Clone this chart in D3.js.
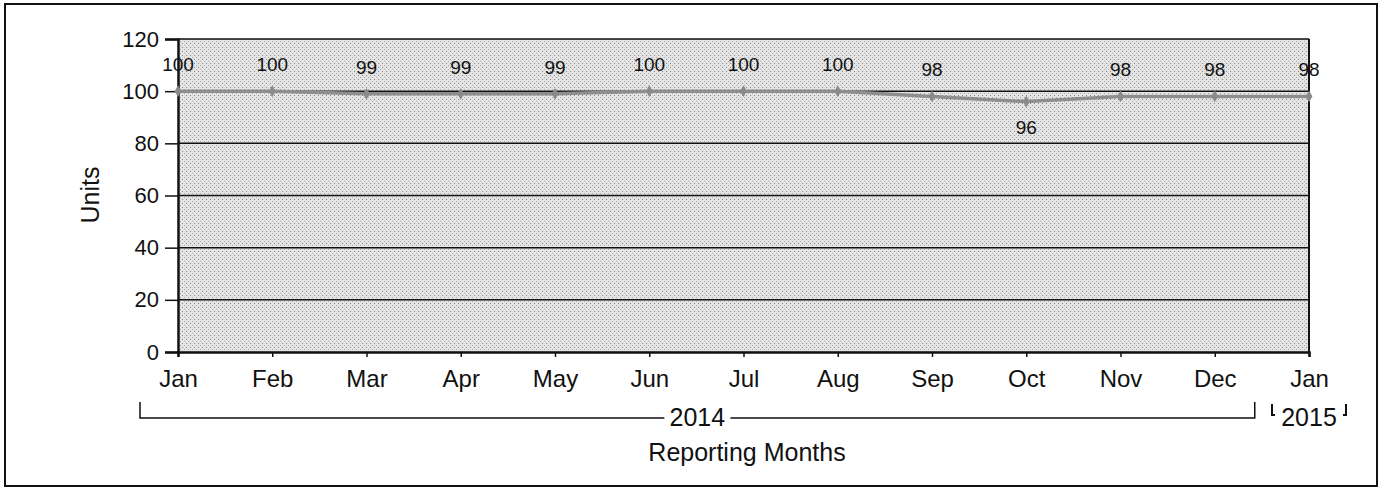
<!DOCTYPE html>
<html>
<head>
<meta charset="utf-8">
<script src="https://cdn.jsdelivr.net/npm/d3@7"></script>
<style>
  body { margin: 0; background: #fff; }
  svg text { font-family: "Liberation Sans", Arial, sans-serif; fill: #111; }
</style>
</head>
<body>
<svg id="chart" width="1380" height="489"></svg>
<script>
// data
const months = ["Jan", "Feb", "Mar", "Apr", "May", "Jun", "Jul", "Aug", "Sep", "Oct", "Nov", "Dec", "Jan"];
const units = [100, 100, 99, 99, 99, 100, 100, 100, 98, 96, 98, 98, 98];
const yTicks = [0, 20, 40, 60, 80, 100, 120];
const years = [{ label: "2014", from: 0, to: 11 }, { label: "2015", from: 12, to: 12 }];

const svg = d3.select("#chart");

const margin = { top: 39, right: 71, bottom: 137, left: 178 },
    width = 1380 - margin.left - margin.right,
    height = 489 - margin.top - margin.bottom;

// outer frame
svg.append("rect")
    .attr("x", 5).attr("y", 4)
    .attr("width", 1372).attr("height", 482)
    .attr("fill", "none").attr("stroke", "#111").attr("stroke-width", 2);

// stipple pattern for the plot background
const defs = svg.append("defs");
const pat = defs.append("pattern")
    .attr("id", "stipple").attr("width", 4).attr("height", 4)
    .attr("patternUnits", "userSpaceOnUse");
pat.append("rect").attr("width", 4).attr("height", 4).attr("fill", "#e4e4e4");
pat.append("rect").attr("x", 0).attr("y", 0).attr("width", 1).attr("height", 1).attr("fill", "#888");
pat.append("rect").attr("x", 2).attr("y", 2).attr("width", 1).attr("height", 1).attr("fill", "#aaa");

const g = svg.append("g").attr("transform", `translate(${margin.left},${margin.top})`);

const x = d3.scalePoint().domain(d3.range(months.length)).range([0, width]);
const y = d3.scaleLinear().domain([0, 120]).range([height, 0]);

g.append("rect")
    .attr("width", width).attr("height", height)
    .attr("fill", "url(#stipple)");

// gridlines
g.append("g")
    .selectAll("line")
    .data(yTicks.filter(d => d > 0))
    .enter().append("line")
    .attr("x1", 0).attr("x2", width)
    .attr("y1", d => y(d)).attr("y2", d => y(d))
    .attr("stroke", "#111").attr("stroke-width", 1.5);

// right border
g.append("line")
    .attr("x1", width).attr("x2", width)
    .attr("y1", 0).attr("y2", height)
    .attr("stroke", "#111").attr("stroke-width", 2);

// y axis
const yAxis = g.append("g")
    .call(d3.axisLeft(y).tickValues(yTicks).tickSize(13).tickPadding(6));
yAxis.select(".domain").attr("stroke", "#111").attr("stroke-width", 2.5);
yAxis.selectAll(".tick line").attr("stroke", "#111").attr("stroke-width", 1.5);
yAxis.selectAll("text").style("font-size", "22px").attr("fill", "#111");

// x axis
const xAxis = g.append("g")
    .attr("transform", `translate(0,${height})`)
    .call(d3.axisBottom(x).tickFormat(i => months[i]).tickSize(5).tickPadding(13));
xAxis.select(".domain").attr("stroke", "#111").attr("stroke-width", 2.5);
xAxis.selectAll(".tick line").attr("stroke", "#111").attr("stroke-width", 1.5);
xAxis.selectAll("text").style("font-size", "24px").attr("fill", "#111");

// line
g.append("path")
    .datum(units)
    .attr("fill", "none")
    .attr("stroke", "#8e8e8e")
    .attr("stroke-width", 3.5)
    .attr("d", d3.line().x((d, i) => x(i)).y(d => y(d)));

// markers
g.append("g")
    .selectAll("path")
    .data(units)
    .enter().append("path")
    .attr("transform", (d, i) => `translate(${x(i)},${y(d)})`)
    .attr("d", d3.symbol().type(d3.symbolDiamond).size(40))
    .attr("fill", "#8a8a8a");

// value labels
g.append("g")
    .selectAll("text")
    .data(units)
    .enter().append("text")
    .attr("x", (d, i) => x(i))
    .attr("y", (d, i) => i === 9 ? y(d) + 32 : y(d) - 20)
    .attr("text-anchor", "middle")
    .style("font-size", "19px")
    .text(d => d);

// year brackets
const by = height + 66;
years.forEach(yr => {
    if (yr.from === yr.to) {
        const cx = x(yr.from);
        g.append("text")
            .attr("x", cx).attr("y", by + 8)
            .attr("text-anchor", "middle")
            .style("font-size", "25px")
            .text(yr.label);
        [[cx - 37, 1], [cx + 37, -1]].forEach(([bx, dir]) => {
            g.append("path")
                .attr("d", `M${bx},${by - 14} V${by - 3} H${bx + dir * 3}`)
                .attr("fill", "none").attr("stroke", "#111").attr("stroke-width", 2);
        });
    } else {
        const x0 = x(yr.from) - 38, x1 = x(yr.to) + 40;
        const mid = (x0 + x1) / 2;
        g.append("path")
            .attr("d", `M${x0},${by - 16} V${by} H${mid - 33} M${mid + 33},${by} H${x1} V${by - 16}`)
            .attr("fill", "none").attr("stroke", "#111").attr("stroke-width", 1.5);
        g.append("text")
            .attr("x", mid).attr("y", by + 8)
            .attr("text-anchor", "middle")
            .style("font-size", "25px")
            .text(yr.label);
    }
});

// axis titles
svg.append("text")
    .attr("x", 747).attr("y", 461)
    .attr("text-anchor", "middle")
    .style("font-size", "25px")
    .text("Reporting Months");

svg.append("text")
    .attr("transform", "translate(99,195) rotate(-90)")
    .attr("text-anchor", "middle")
    .style("font-size", "25px")
    .text("Units");
</script>
</body>
</html>
